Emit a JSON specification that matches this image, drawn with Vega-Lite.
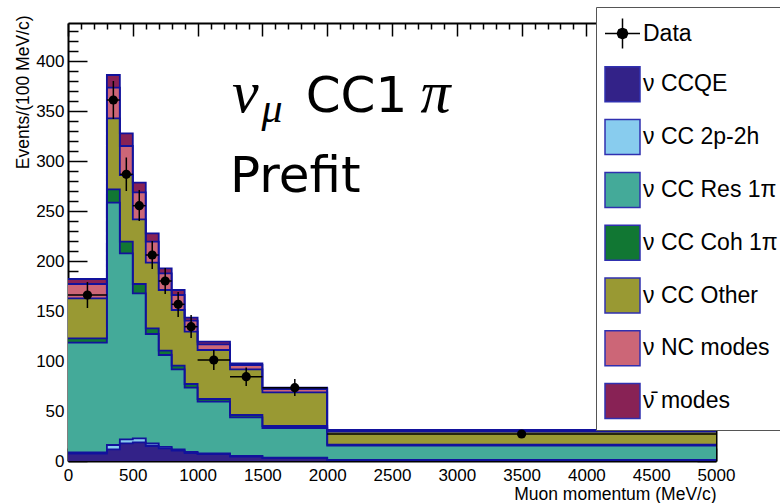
{
  "$schema": "https://vega.github.io/schema/vega-lite/v6.json",
  "width": 648,
  "height": 438,
  "autosize": {"type": "none"},
  "padding": {"left": 68, "top": 23, "right": 64, "bottom": 42},
  "background": "white",
  "config": {"view": {"stroke": null}, "font": "Liberation Sans", "axis": {"grid": false}},
  "datasets": {
    "mc": [
      {"lo":0,"hi":300,"c":"ν CCQE","o":1,"v":7.5},{"lo":0,"hi":300,"c":"ν CC 2p-2h","o":2,"v":1.2},{"lo":0,"hi":300,"c":"ν CC Res 1π","o":3,"v":109.6},{"lo":0,"hi":300,"c":"ν CC Coh 1π","o":4,"v":4.4},{"lo":0,"hi":300,"c":"ν CC Other","o":5,"v":40},{"lo":0,"hi":300,"c":"ν NC modes","o":6,"v":14.3},{"lo":0,"hi":300,"c":"ν̄ modes","o":7,"v":5},
      {"lo":300,"hi":400,"c":"ν CCQE","o":1,"v":11.7},{"lo":300,"hi":400,"c":"ν CC 2p-2h","o":2,"v":4.3},{"lo":300,"hi":400,"c":"ν CC Res 1π","o":3,"v":242.3},{"lo":300,"hi":400,"c":"ν CC Coh 1π","o":4,"v":13.4},{"lo":300,"hi":400,"c":"ν CC Other","o":5,"v":71},{"lo":300,"hi":400,"c":"ν NC modes","o":6,"v":30.6},{"lo":300,"hi":400,"c":"ν̄ modes","o":7,"v":12.7},
      {"lo":400,"hi":500,"c":"ν CCQE","o":1,"v":17.7},{"lo":400,"hi":500,"c":"ν CC 2p-2h","o":2,"v":4},{"lo":400,"hi":500,"c":"ν CC Res 1π","o":3,"v":186},{"lo":400,"hi":500,"c":"ν CC Coh 1π","o":4,"v":11.6},{"lo":400,"hi":500,"c":"ν CC Other","o":5,"v":66.7},{"lo":400,"hi":500,"c":"ν NC modes","o":6,"v":29},{"lo":400,"hi":500,"c":"ν̄ modes","o":7,"v":12.7},
      {"lo":500,"hi":600,"c":"ν CCQE","o":1,"v":18.7},{"lo":500,"hi":600,"c":"ν CC 2p-2h","o":2,"v":4},{"lo":500,"hi":600,"c":"ν CC Res 1π","o":3,"v":145},{"lo":500,"hi":600,"c":"ν CC Coh 1π","o":4,"v":9.3},{"lo":500,"hi":600,"c":"ν CC Other","o":5,"v":64.7},{"lo":500,"hi":600,"c":"ν NC modes","o":6,"v":27},{"lo":500,"hi":600,"c":"ν̄ modes","o":7,"v":9.6},
      {"lo":600,"hi":700,"c":"ν CCQE","o":1,"v":15},{"lo":600,"hi":700,"c":"ν CC 2p-2h","o":2,"v":2.5},{"lo":600,"hi":700,"c":"ν CC Res 1π","o":3,"v":109.5},{"lo":600,"hi":700,"c":"ν CC Coh 1π","o":4,"v":5.7},{"lo":600,"hi":700,"c":"ν CC Other","o":5,"v":65.6},{"lo":600,"hi":700,"c":"ν NC modes","o":6,"v":21},{"lo":600,"hi":700,"c":"ν̄ modes","o":7,"v":8.4},
      {"lo":700,"hi":800,"c":"ν CCQE","o":1,"v":12.7},{"lo":700,"hi":800,"c":"ν CC 2p-2h","o":2,"v":1.5},{"lo":700,"hi":800,"c":"ν CC Res 1π","o":3,"v":91.8},{"lo":700,"hi":800,"c":"ν CC Coh 1π","o":4,"v":4.3},{"lo":700,"hi":800,"c":"ν CC Other","o":5,"v":60.7},{"lo":700,"hi":800,"c":"ν NC modes","o":6,"v":16.7},{"lo":700,"hi":800,"c":"ν̄ modes","o":7,"v":5},
      {"lo":800,"hi":900,"c":"ν CCQE","o":1,"v":10.3},{"lo":800,"hi":900,"c":"ν CC 2p-2h","o":2,"v":1.4},{"lo":800,"hi":900,"c":"ν CC Res 1π","o":3,"v":80},{"lo":800,"hi":900,"c":"ν CC Coh 1π","o":4,"v":3.6},{"lo":800,"hi":900,"c":"ν CC Other","o":5,"v":55.7},{"lo":800,"hi":900,"c":"ν NC modes","o":6,"v":15},{"lo":800,"hi":900,"c":"ν̄ modes","o":7,"v":5},
      {"lo":900,"hi":1000,"c":"ν CCQE","o":1,"v":8},{"lo":900,"hi":1000,"c":"ν CC 2p-2h","o":2,"v":1},{"lo":900,"hi":1000,"c":"ν CC Res 1π","o":3,"v":64.3},{"lo":900,"hi":1000,"c":"ν CC Coh 1π","o":4,"v":3.7},{"lo":900,"hi":1000,"c":"ν CC Other","o":5,"v":52.3},{"lo":900,"hi":1000,"c":"ν NC modes","o":6,"v":11},{"lo":900,"hi":1000,"c":"ν̄ modes","o":7,"v":3},
      {"lo":1000,"hi":1250,"c":"ν CCQE","o":1,"v":6.8},{"lo":1000,"hi":1250,"c":"ν CC 2p-2h","o":2,"v":0.8},{"lo":1000,"hi":1250,"c":"ν CC Res 1π","o":3,"v":51.7},{"lo":1000,"hi":1250,"c":"ν CC Coh 1π","o":4,"v":2.7},{"lo":1000,"hi":1250,"c":"ν CC Other","o":5,"v":49},{"lo":1000,"hi":1250,"c":"ν NC modes","o":6,"v":5.7},{"lo":1000,"hi":1250,"c":"ν̄ modes","o":7,"v":2.6},
      {"lo":1250,"hi":1500,"c":"ν CCQE","o":1,"v":4.5},{"lo":1250,"hi":1500,"c":"ν CC 2p-2h","o":2,"v":0.6},{"lo":1250,"hi":1500,"c":"ν CC Res 1π","o":3,"v":38.6},{"lo":1250,"hi":1500,"c":"ν CC Coh 1π","o":4,"v":2.3},{"lo":1250,"hi":1500,"c":"ν CC Other","o":5,"v":45.7},{"lo":1250,"hi":1500,"c":"ν NC modes","o":6,"v":4.3},{"lo":1250,"hi":1500,"c":"ν̄ modes","o":7,"v":1.7},
      {"lo":1500,"hi":2000,"c":"ν CCQE","o":1,"v":2.8},{"lo":1500,"hi":2000,"c":"ν CC 2p-2h","o":2,"v":0.5},{"lo":1500,"hi":2000,"c":"ν CC Res 1π","o":3,"v":29.7},{"lo":1500,"hi":2000,"c":"ν CC Coh 1π","o":4,"v":2},{"lo":1500,"hi":2000,"c":"ν CC Other","o":5,"v":33.7},{"lo":1500,"hi":2000,"c":"ν NC modes","o":6,"v":3.3},{"lo":1500,"hi":2000,"c":"ν̄ modes","o":7,"v":1.3},
      {"lo":2000,"hi":5000,"c":"ν CCQE","o":1,"v":0.8},{"lo":2000,"hi":5000,"c":"ν CC 2p-2h","o":2,"v":0.2},{"lo":2000,"hi":5000,"c":"ν CC Res 1π","o":3,"v":14.5},{"lo":2000,"hi":5000,"c":"ν CC Coh 1π","o":4,"v":0.8},{"lo":2000,"hi":5000,"c":"ν CC Other","o":5,"v":13},{"lo":2000,"hi":5000,"c":"ν NC modes","o":6,"v":1.2},{"lo":2000,"hi":5000,"c":"ν̄ modes","o":7,"v":0.5}
    ],
    "obs": [
      {"p":150,"lo":0,"hi":300,"n":166,"nlo":153,"nhi":179},
      {"p":350,"lo":300,"hi":400,"n":361,"nlo":342,"nhi":380},
      {"p":450,"lo":400,"hi":500,"n":286.7,"nlo":270,"nhi":303.5},
      {"p":550,"lo":500,"hi":600,"n":255.3,"nlo":240,"nhi":271},
      {"p":650,"lo":600,"hi":700,"n":206,"nlo":192,"nhi":220},
      {"p":750,"lo":700,"hi":800,"n":180,"nlo":167,"nhi":193},
      {"p":850,"lo":800,"hi":900,"n":156.7,"nlo":144,"nhi":169},
      {"p":950,"lo":900,"hi":1000,"n":134.3,"nlo":123,"nhi":146},
      {"p":1125,"lo":1000,"hi":1250,"n":101,"nlo":91,"nhi":111},
      {"p":1375,"lo":1250,"hi":1500,"n":84.3,"nlo":75,"nhi":93.5},
      {"p":1750,"lo":1500,"hi":2000,"n":73.3,"nlo":65,"nhi":82},
      {"p":3500,"lo":2000,"hi":5000,"n":27,"nlo":24,"nhi":30}
    ]
  },
  "resolve": {"axis": {"x": "independent", "y": "independent"}},
  "layer": [
    {
      "data": {"name": "mc"},
      "transform": [
        {"stack": "v", "groupby": ["lo", "hi"], "sort": [{"field": "o", "order": "ascending"}], "as": ["y0", "y1"]},
        {"fold": ["lo", "hi"], "as": ["edge", "xpos"]}
      ],
      "mark": {"type": "area", "opacity": 1, "interpolate": "linear"},
      "encoding": {
        "x": {"field": "xpos", "type": "quantitative", "scale": {"domain": [0, 5000], "nice": false, "zero": false},
          "axis": {"orient": "bottom",
            "values": [0,100,200,300,400,500,600,700,800,900,1000,1100,1200,1300,1400,1500,1600,1700,1800,1900,2000,2100,2200,2300,2400,2500,2600,2700,2800,2900,3000,3100,3200,3300,3400,3500,3600,3700,3800,3900,4000,4100,4200,4300,4400,4500,4600,4700,4800,4900,5000],
            "format": "d", "labelExpr": "datum.value % 500 === 0 ? datum.label : ''",
            "tickSize": {"condition": {"test": "datum.value % 500 === 0", "value": -13}, "value": -6},
            "labelPadding": 19, "labelFontSize": 17, "labelFont": "Liberation Sans", "labelColor": "black", "labelFlush": false, "labelOverlap": false,
            "domainColor": "black", "domainWidth": 2, "tickColor": "black", "tickWidth": 1.5,
            "title": "Muon momentum (MeV/c)", "titleFont": "Liberation Sans", "titleFontSize": 17.5, "titleFontWeight": "normal", "titleColor": "black",
            "titleAnchor": "end", "titleAlign": "right", "titleBaseline": "alphabetic", "titleX": 648, "titleY": 38}},
        "y": {"field": "y1", "type": "quantitative", "stack": null, "scale": {"domain": [0, 438], "nice": false, "zero": false},
          "axis": {"orient": "left",
            "values": [0,10,20,30,40,50,60,70,80,90,100,110,120,130,140,150,160,170,180,190,200,210,220,230,240,250,260,270,280,290,300,310,320,330,340,350,360,370,380,390,400,410,420,430],
            "format": "d", "labelExpr": "datum.value % 50 === 0 ? datum.label : ''",
            "tickSize": {"condition": {"test": "datum.value % 50 === 0", "value": -19}, "value": -10},
            "labelPadding": 23, "labelFontSize": 17, "labelFont": "Liberation Sans", "labelColor": "black", "labelFlush": false, "labelOverlap": false,
            "domainColor": "black", "domainWidth": 2, "tickColor": "black", "tickWidth": 1.5,
            "title": "Events/(100 MeV/c)", "titleFont": "Liberation Sans", "titleFontSize": 17.5, "titleFontWeight": "normal", "titleColor": "black",
            "titleAngle": -90, "titleAlign": "right", "titleBaseline": "middle", "titleX": -45, "titleY": -8}},
        "y2": {"field": "y0"},
        "fill": {"field": "c", "type": "nominal",
          "scale": {"domain": ["Data", "ν CCQE", "ν CC 2p-2h", "ν CC Res 1π", "ν CC Coh 1π", "ν CC Other", "ν NC modes", "ν̄ modes"],
                    "range": ["#000000", "#332288", "#88CCEE", "#44AA99", "#117733", "#999933", "#CC6677", "#882255"]},
          "legend": {"orient": "none", "legendX": 528, "legendY": -16, "direction": "vertical", "title": null,
            "symbolType": {"expr": "datum.value === 'Data' ? 'M-1,0H1M0,-0.86V0.86M0.3,0L0.21,0.21L0,0.3L-0.21,0.21L-0.3,0L-0.21,-0.21L0,-0.3L0.21,-0.21Z' : 'square'"},
            "symbolStrokeColor": {"expr": "datum.value === 'Data' ? '#000000' : '#3030b0'"},
            "symbolSize": 1225, "rowPadding": 11.8, "padding": 8,
            "symbolStrokeWidth": 1.5, "symbolOpacity": 1,
            "labelFont": "Liberation Sans", "labelFontSize": 23, "labelColor": "black", "labelOffset": 2, "labelLimit": 400,
            "strokeColor": "#555555", "fillColor": "white"}},
        "order": [{"field": "xpos", "type": "quantitative"}, {"field": "edge", "type": "nominal", "sort": "ascending"}]
      }
    },
    {
      "data": {"name": "mc"},
      "transform": [
        {"stack": "v", "groupby": ["lo", "hi"], "sort": [{"field": "o", "order": "ascending"}], "as": ["y0", "y1"]},
        {"fold": ["lo", "hi"], "as": ["edge", "xpos"]}
      ],
      "mark": {"type": "line", "stroke": "#12129c", "strokeWidth": 1.8, "interpolate": "linear"},
      "encoding": {
        "x": {"field": "xpos", "type": "quantitative", "scale": {"domain": [0, 5000], "nice": false, "zero": false}, "axis": null},
        "y": {"field": "y1", "type": "quantitative", "stack": null, "scale": {"domain": [0, 438], "nice": false, "zero": false}, "axis": null},
        "detail": {"field": "c", "type": "nominal"},
        "order": [{"field": "xpos", "type": "quantitative"}, {"field": "edge", "type": "nominal", "sort": "ascending"}]
      }
    },
    {
      "data": {"name": "obs"},
      "mark": {"type": "rule", "stroke": "black", "strokeWidth": 1.5},
      "encoding": {
        "x": {"field": "lo", "type": "quantitative", "scale": {"domain": [0, 5000], "nice": false, "zero": false}, "axis": null},
        "x2": {"field": "hi"},
        "y": {"field": "n", "type": "quantitative", "scale": {"domain": [0, 438], "nice": false, "zero": false}, "axis": null}
      }
    },
    {
      "data": {"name": "obs"},
      "mark": {"type": "rule", "stroke": "black", "strokeWidth": 1.5},
      "encoding": {
        "x": {"field": "p", "type": "quantitative", "scale": {"domain": [0, 5000], "nice": false, "zero": false}, "axis": null},
        "y": {"field": "nlo", "type": "quantitative", "scale": {"domain": [0, 438], "nice": false, "zero": false}, "axis": null},
        "y2": {"field": "nhi"}
      }
    },
    {
      "data": {"name": "obs"},
      "mark": {"type": "circle", "fill": "black", "opacity": 1, "size": 85},
      "encoding": {
        "x": {"field": "p", "type": "quantitative", "scale": {"domain": [0, 5000], "nice": false, "zero": false},
          "axis": {"orient": "top", "labels": false, "title": null,
            "values": [0,100,200,300,400,500,600,700,800,900,1000,1100,1200,1300,1400,1500,1600,1700,1800,1900,2000,2100,2200,2300,2400,2500,2600,2700,2800,2900,3000,3100,3200,3300,3400,3500,3600,3700,3800,3900,4000,4100,4200,4300,4400,4500,4600,4700,4800,4900,5000],
            "tickSize": {"condition": {"test": "datum.value % 500 === 0", "value": -13}, "value": -6},
            "domainColor": "black", "domainWidth": 2, "tickColor": "black", "tickWidth": 1.5}},
        "y": {"field": "n", "type": "quantitative", "scale": {"domain": [0, 438], "nice": false, "zero": false},
          "axis": {"orient": "right", "labels": false, "title": null,
            "values": [0,10,20,30,40,50,60,70,80,90,100,110,120,130,140,150,160,170,180,190,200,210,220,230,240,250,260,270,280,290,300,310,320,330,340,350,360,370,380,390,400,410,420,430],
            "tickSize": {"condition": {"test": "datum.value % 50 === 0", "value": -19}, "value": -10},
            "domainColor": "black", "domainWidth": 2, "tickColor": "black", "tickWidth": 1.5}}
      }
    },
    {
      "data": {"values": [{"t": "ν", "x": 1265, "y": 349}]},
      "mark": {"type": "text", "font": "Liberation Serif", "fontStyle": "italic", "fontSize": 60, "align": "left", "baseline": "alphabetic", "color": "black"},
      "encoding": {
        "x": {"field": "x", "type": "quantitative", "scale": {"domain": [0, 5000], "nice": false, "zero": false}, "axis": null},
        "y": {"field": "y", "type": "quantitative", "scale": {"domain": [0, 438], "nice": false, "zero": false}, "axis": null},
        "text": {"field": "t"}
      }
    },
    {
      "data": {"values": [{"t": "μ", "x": 1494, "y": 339}]},
      "mark": {"type": "text", "font": "Liberation Serif", "fontStyle": "italic", "fontSize": 42, "align": "left", "baseline": "alphabetic", "color": "black"},
      "encoding": {
        "x": {"field": "x", "type": "quantitative", "scale": {"domain": [0, 5000], "nice": false, "zero": false}, "axis": null},
        "y": {"field": "y", "type": "quantitative", "scale": {"domain": [0, 438], "nice": false, "zero": false}, "axis": null},
        "text": {"field": "t"}
      }
    },
    {
      "data": {"values": [{"t": "CC1", "x": 1834, "y": 349}]},
      "mark": {"type": "text", "font": "DejaVu Sans", "fontSize": 50, "align": "left", "baseline": "alphabetic", "color": "black"},
      "encoding": {
        "x": {"field": "x", "type": "quantitative", "scale": {"domain": [0, 5000], "nice": false, "zero": false}, "axis": null},
        "y": {"field": "y", "type": "quantitative", "scale": {"domain": [0, 438], "nice": false, "zero": false}, "axis": null},
        "text": {"field": "t"}
      }
    },
    {
      "data": {"values": [{"t": "Prefit", "x": 1250, "y": 269}]},
      "mark": {"type": "text", "font": "DejaVu Sans", "fontSize": 50, "align": "left", "baseline": "alphabetic", "color": "black"},
      "encoding": {
        "x": {"field": "x", "type": "quantitative", "scale": {"domain": [0, 5000], "nice": false, "zero": false}, "axis": null},
        "y": {"field": "y", "type": "quantitative", "scale": {"domain": [0, 438], "nice": false, "zero": false}, "axis": null},
        "text": {"field": "t"}
      }
    },
    {
      "data": {"values": [{"t": "π", "x": 2720, "y": 349}]},
      "mark": {"type": "text", "font": "Liberation Serif", "fontStyle": "italic", "fontSize": 60, "align": "left", "baseline": "alphabetic", "color": "black"},
      "encoding": {
        "x": {"field": "x", "type": "quantitative", "scale": {"domain": [0, 5000], "nice": false, "zero": false}, "axis": null},
        "y": {"field": "y", "type": "quantitative", "scale": {"domain": [0, 438], "nice": false, "zero": false}, "axis": null},
        "text": {"field": "t"}
      }
    }
  ]
}
